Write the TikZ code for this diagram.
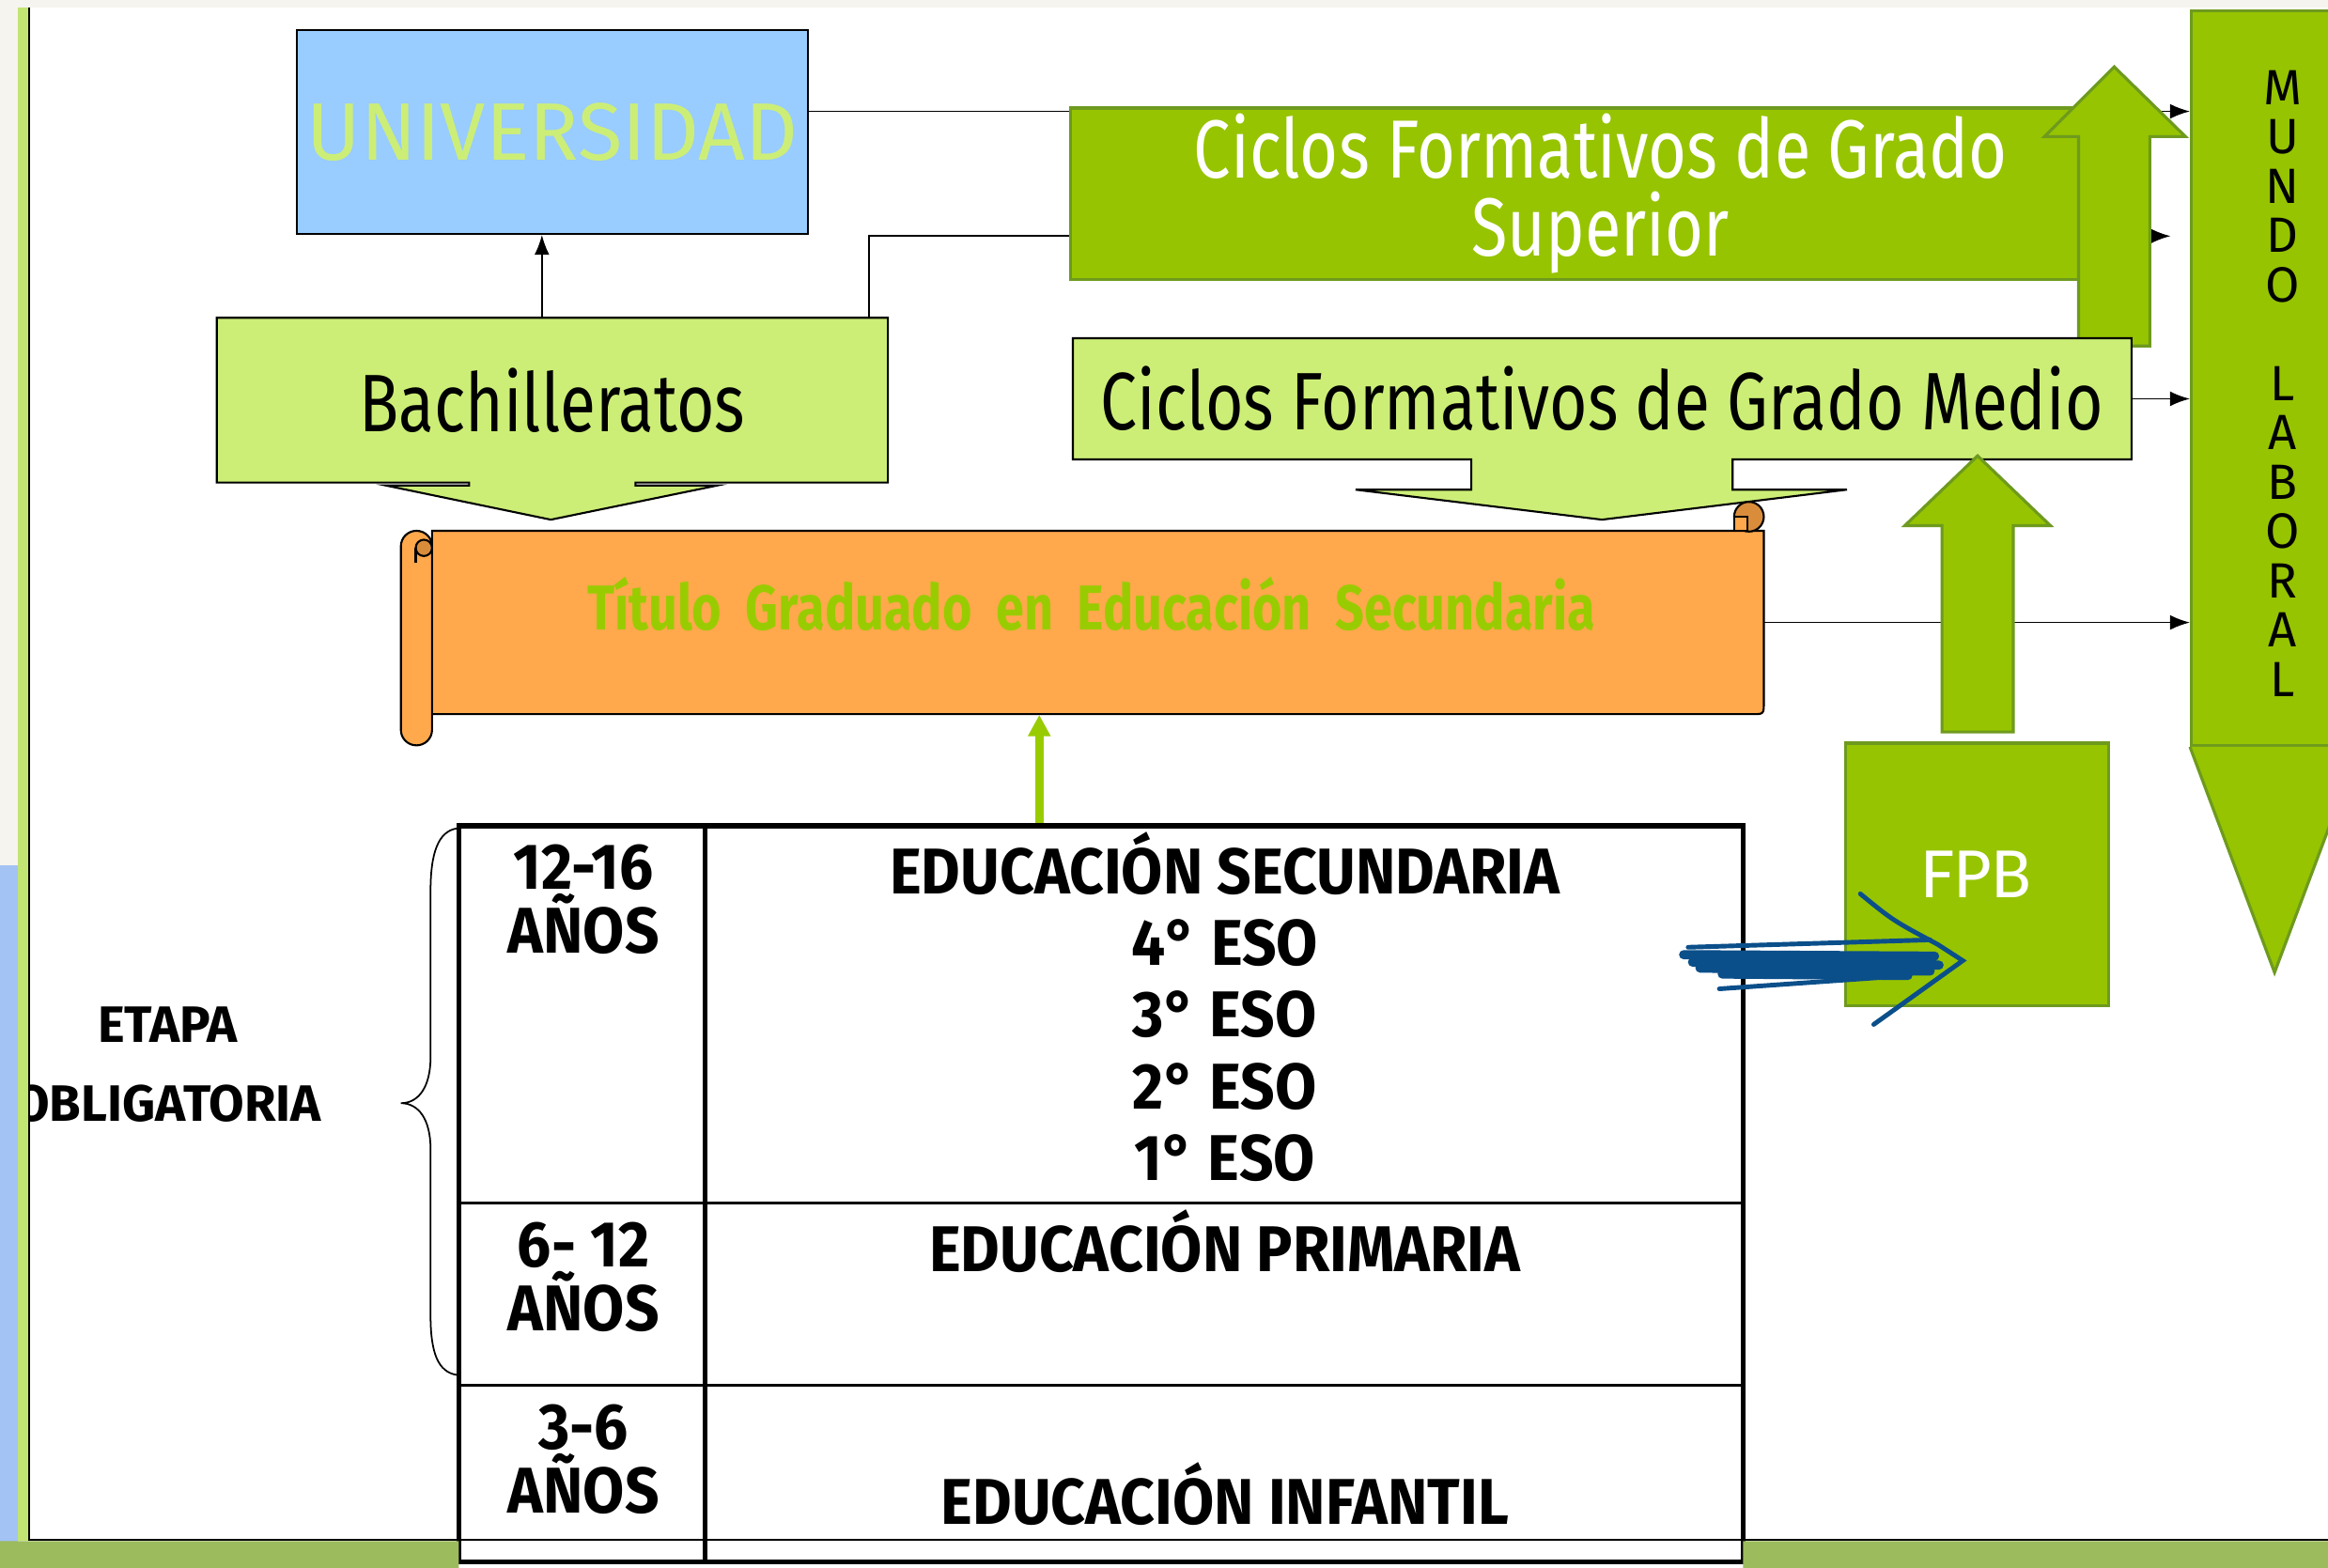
\documentclass[tikz,border=0pt]{standalone}
\usepackage{fontspec}
\setmainfont{Fira Sans}
\newfontfamily\comic[FakeStretch=0.8]{Fira Sans}
\newfontfamily\comicb[FakeStretch=0.93]{Fira Sans}
\newfontfamily\calib{Carlito}
\usetikzlibrary{calc,arrows.meta}
\def\px{0.015804cm}
\definecolor{azuluniv}{HTML}{99CCFF}
\definecolor{verdeclaro}{HTML}{CCEE77}
\definecolor{verdeforte}{HTML}{96C400}
\definecolor{bordaverde}{HTML}{6E9A1E}
\definecolor{laranja}{HTML}{FFA84C}
\definecolor{laranjaesc}{HTML}{D98D3B}
\definecolor{verdetitulo}{HTML}{99CC00}
\definecolor{tinta}{HTML}{0B4F8A}
\definecolor{beige}{HTML}{F6F4EE}
\definecolor{azulfaixa}{HTML}{A3C3F5}
\definecolor{verdefaixa}{HTML}{9CBB5C}
\pgfdeclarelayer{fundo}
\pgfdeclarelayer{linhas}
\pgfsetlayers{fundo,linhas,main}
\begin{document}
\begin{tikzpicture}[
  x=\px, y=-\px,
  every node/.style={inner sep=0pt, font=\comic},
  boxsize/.style 2 args={minimum width=#1*\px, minimum height=#2*\px}
]
\tikzset{
  clara/.style={fill=verdeclaro, draw=black, line width=0.6pt},
  verde/.style={fill=verdeforte, draw=bordaverde, line width=0.9pt},
  rolo/.style={fill=laranja, draw=black, line width=0.6pt},
  seta/.style={line width=0.5pt, -{Latex[length=6pt,width=4.5pt]}},
  setaverde/.style={draw=verdetitulo, line width=2.7pt, -{Triangle[length=6.5pt,width=6.5pt]}},
  grande/.style={font=\comic\fontsize{24.7pt}{26pt}\selectfont},
  idade/.style={font=\comicb\bfseries\fontsize{19.6pt}{18pt}\selectfont, align=center},
  etapa/.style={font=\comicb\bfseries\fontsize{19.6pt}{21.7pt}\selectfont, align=center},
  letra/.style={font=\rmfamily\fontsize{15pt}{16pt}\selectfont},
  rabisco/.style={draw=tinta, line width=1.4pt, line cap=round}
}
\useasboundingbox (0,0) rectangle (1568,1056);
\begin{pgfonlayer}{fundo}
  \fill[white] (0,0) rectangle (1568,1056);
\end{pgfonlayer}

% caixas de cima
\node[clara, boxsize={344}{137}, fill=azuluniv, text=verdeclaro,
  font=\rmfamily\fontsize{24.7pt}{26pt}\selectfont] (univ) at (372,89) {UNIVERSIDAD};
\draw[clara] (146,214) -- (598,214) -- (598,325) -- (428,325) -- (428,327) -- (483,327)
  -- (371,350) -- (260,327) -- (316,327) -- (316,325) -- (146,325) -- cycle;
\node[boxsize={452}{111}, grande] (bach) at (372,269.5) {Bachilleratos};

\node[verde, boxsize={714}{115.5}, text=white, align=center,
  font=\comic\fontsize{25pt}{23.8pt}\selectfont] (sup) at (1078,130.5) {Ciclos Formativos de Grado\\Superior};
\draw[verde] (1400,233) -- (1400,92) -- (1377,92) -- (1424,45) -- (1472,92) -- (1448,92) -- (1448,233) -- cycle;

\draw[clara] (722.6,227.8) -- (1435.7,227.8) -- (1435.7,309.4) -- (1167,309.4) -- (1167,329.8) -- (1244,329.8)
  -- (1079,350) -- (913,329.8) -- (991,329.8) -- (991,309.4) -- (722.6,309.4) -- cycle;
\node[boxsize={713}{81.6}, grande] (medio) at (1079,268.6) {Ciclos Formativos de Grado Medio};

% mundo laboral
\node[verde, boxsize={112}{494.5}] (mundo) at (1532,254.75) {};
\draw[verde] (mundo.south west) -- (1532,655) -- (mundo.south east);
\foreach \letra [count=\i] in {M,U,N,D,O,{},L,A,B,O,R,A,L}
  \node[letra] (l\i) at (1537.5,{59+33.2*(\i-1)}) {\letra};

% pergaminho
\draw[rolo] (291,357.5) -- (1188,357.5) -- (1188,473) .. controls (1188,481) .. (1180,481) -- (291,481) -- cycle;
\draw[rolo, fill=laranjaesc] (1178,348) circle[radius=10];
\draw[rolo] (1168,348) rectangle (1177,357.5);
\draw[rolo, rounded corners=4.7pt] (270,357.5) rectangle (291,502);
\draw[rolo, fill=laranjaesc] (285.5,369) circle[radius=5.5];
\draw[line width=0.6pt] (280,369) -- (280,379);
\node[boxsize={897}{123.5}] (titulo) at (739.5,419.25) {};
\node[text=verdetitulo, font=\comic\bfseries\fontsize{19.2pt}{20pt}\selectfont, align=center]
  (titulotxt) at (735,407) {Título \ Graduado \ en \ Educación \ Secundaria};

% FPB
\draw[verde] (1308,493) -- (1308,354) -- (1283,354) -- (1332,307) -- (1381,354) -- (1356,354) -- (1356,493) -- cycle;
\node[verde, boxsize={177}{177}, text=white, font=\calib\fontsize{22pt}{24pt}\selectfont] (fpb) at (1331.5,589) {FPB};

% tabla
\node[draw=black, line width=1.6pt, boxsize={865}{496}] (tbl) at (741.5,804) {};
\draw[line width=0.9pt] (309,810) -- (1174,810) (309,933) -- (1174,933);
\draw[line width=1.4pt] (475,556) -- (475,1052);
\node[idade] (ida1) at (393,606) {12-16\\AÑOS};
\node[idade] (ida2) at (393,860) {6- 12\\AÑOS};
\node[idade] (ida3) at (393,983) {3-6\\AÑOS};
\node[etapa] (secund) at (825,678) {EDUCACIÓN SECUNDARIA\\4° ESO\\3° ESO\\2° ESO\\1° ESO};
\node[etapa] (prim) at (825,836) {EDUCACIÓN PRIMARIA};
\node[etapa] (infant) at (825,1006) {EDUCACIÓN INFANTIL};

\draw[line width=0.5pt] (307.5,558) .. controls (295,560) and (290,575) .. (290,600) -- (290,712)
  .. controls (290,732) and (282,743) .. (270,743) .. controls (282,743) and (290,754) .. (290,774)
  -- (290,886) .. controls (290,911) and (295,924) .. (307.5,926);
\node[align=center, font=\rmfamily\bfseries\fontsize{15.5pt}{24pt}\selectfont] (obl) at (113,717) {ETAPA\\OBLIGATORIA};

% flecha a mano
\draw[rabisco] (1137,638) -- (1300,633);
\draw[rabisco, line width=2.8pt] (1134,643) -- (1303,644) (1140,648) -- (1306,650) (1145,652) -- (1300,654) (1160,656) -- (1285,657);
\draw[rabisco] (1158,666) -- (1286,657);
\draw[rabisco] (1253,602) .. controls (1275,620) .. (1305,636) -- (1322,647) -- (1262,690);

% conectores
\coordinate (gx) at (700,0);
\coordinate (fimS) at (1462,159);
\begin{pgfonlayer}{linhas}
  \draw[seta] (univ.east |- 0,75) -- (mundo.west |- 0,75);
  \draw[seta] ($(bach.north east)+(-13,0)$) |- (fimS);
  \draw[seta] ($(bach.north)+(-7,0)$) -- ($(univ.south)+(-7,0)$);
  \draw[seta] (medio.east) -- (medio.east -| mundo.west);
  \draw[seta] (titulo.east) -- (titulo.east -| mundo.west);
\end{pgfonlayer}
\draw[setaverde] (tbl.north -| gx) -- (titulo.south -| gx);

% bordes de la diapositiva
\fill[beige] (0,0) rectangle (1568,5);
\fill[beige] (0,0) rectangle (12,583);
\fill[azulfaixa] (0,583) rectangle (12,1056);
\fill[verdeclaro!80!verdefaixa] (12,5) rectangle (19,1038);
\draw[line width=0.5pt] (19.5,5) -- (19.5,1037) -- (1568,1037);
\fill[verdefaixa] (0,1038) rectangle (309,1056) (1174,1038) rectangle (1568,1056);
\end{tikzpicture}
\end{document}
